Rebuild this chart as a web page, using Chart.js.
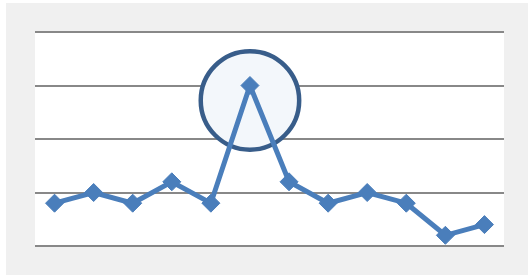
<!DOCTYPE html>
<html lang="en">
  <head>
    <meta charset="UTF-8" />
    <title>Line chart with highlighted peak</title>
    <script src="https://cdn.jsdelivr.net/npm/chart.js"></script>
    <style>
      html, body {
        margin: 0;
        padding: 0;
        background: #ffffff;
      }
      #frame {
        position: absolute;
        left: 6px;
        top: 3px;
        width: 522px;
        height: 272px;
        background: #f0f0f0;
      }
      #chart {
        display: block;
      }
    </style>
  </head>
  <body>
    <div id="frame"><canvas id="chart" width="522" height="272"></canvas></div>
    <script>
      const categories = ["1", "2", "3", "4", "5", "6", "7", "8", "9", "10", "11", "12"];
      const values = [4, 5, 4, 6, 4, 15, 6, 4, 5, 4, 1, 2];
      const yTicks = [0, 5, 10, 15, 20];

      // highlight ring around the peak, in data units
      const highlightIndex = 5;
      const highlightCenter = 13.6;
      const highlightRadius = 4.6;

      const plotBackground = {
        id: "plotBackground",
        beforeDraw(chart) {
          const { ctx, chartArea: a } = chart;
          ctx.save();
          ctx.fillStyle = "#ffffff";
          ctx.fillRect(a.left, a.top, a.right - a.left, a.bottom - a.top);
          ctx.restore();
        },
      };

      const highlightRing = {
        id: "highlightRing",
        beforeDatasetsDraw(chart) {
          const { ctx, scales } = chart;
          const cx = scales.x.getPixelForValue(highlightIndex);
          const cy = scales.y.getPixelForValue(highlightCenter);
          const r = scales.y.getPixelForValue(0) - scales.y.getPixelForValue(highlightRadius);
          ctx.save();
          ctx.beginPath();
          ctx.arc(cx, cy, r, 0, Math.PI * 2);
          ctx.fillStyle = "#f3f7fb";
          ctx.fill();
          ctx.lineWidth = 4.5;
          ctx.strokeStyle = "#385d8a";
          ctx.stroke();
          ctx.restore();
        },
      };

      new Chart(document.getElementById("chart"), {
        type: "line",
        data: {
          labels: categories,
          datasets: [
            {
              data: values,
              borderColor: "#4a7ebb",
              backgroundColor: "#4a7ebb",
              borderWidth: 5,
              pointStyle: "rectRot",
              pointRadius: 9,
              pointBorderWidth: 1,
              pointHoverRadius: 9,
              tension: 0,
            },
          ],
        },
        options: {
          responsive: false,
          animation: false,
          devicePixelRatio: 1,
          layout: { padding: { left: 29, top: 29, right: 24, bottom: 29 } },
          plugins: {
            legend: { display: false },
            tooltip: { enabled: false },
          },
          scales: {
            x: {
              display: false,
              offset: true,
            },
            y: {
              min: yTicks[0],
              max: yTicks[yTicks.length - 1],
              afterBuildTicks(scale) {
                scale.ticks = yTicks.map((v) => ({ value: v }));
              },
              ticks: { display: false },
              border: { display: false },
              grid: {
                color: "#888888",
                lineWidth: 2,
                drawTicks: false,
              },
            },
          },
        },
        plugins: [plotBackground, highlightRing],
      });
    </script>
  </body>
</html>
